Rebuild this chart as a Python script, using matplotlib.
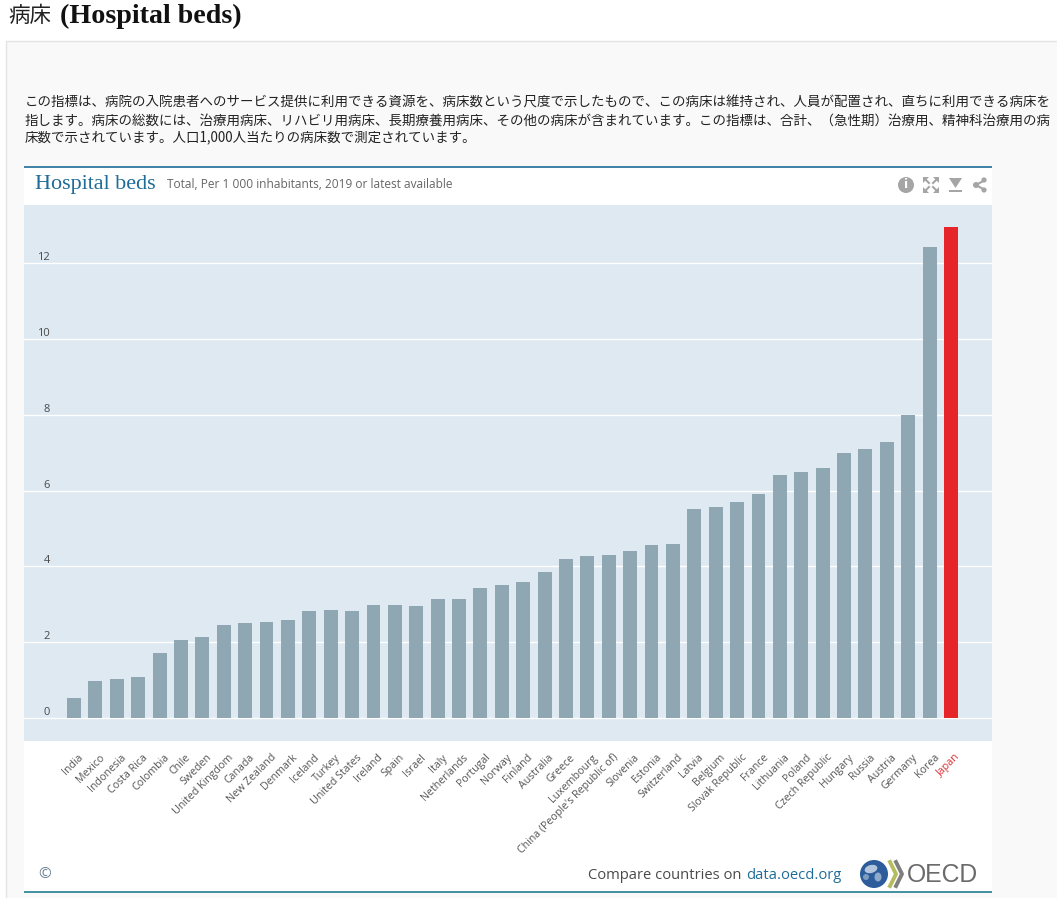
import matplotlib
matplotlib.use("Agg")
import matplotlib.pyplot as plt
from matplotlib.patches import Rectangle, Circle, Polygon, Ellipse
from matplotlib.transforms import ScaledTranslation

countries = ["India", "Mexico", "Indonesia", "Costa Rica", "Colombia", "Chile", "Sweden",
             "United Kingdom", "Canada", "New Zealand", "Denmark", "Iceland", "Turkey",
             "United States", "Ireland", "Spain", "Israel", "Italy", "Netherlands", "Portugal",
             "Norway", "Finland", "Australia", "Greece", "Luxembourg",
             "China (People's Republic of)", "Slovenia", "Estonia", "Switzerland", "Latvia",
             "Belgium", "Slovak Republic", "France", "Lithuania", "Poland", "Czech Republic",
             "Hungary", "Russia", "Austria", "Germany", "Korea", "Japan"]
beds = [0.53, 0.98, 1.04, 1.09, 1.71, 2.06, 2.14, 2.45, 2.5, 2.54, 2.59, 2.83, 2.85, 2.83,
        2.97, 2.97, 2.95, 3.14, 3.15, 3.42, 3.5, 3.6, 3.84, 4.2, 4.26, 4.3, 4.4, 4.57, 4.6,
        5.5, 5.57, 5.7, 5.9, 6.4, 6.5, 6.6, 7.0, 7.1, 7.27, 8.0, 12.43, 12.96]
y_ticks = [0, 2, 4, 6, 8, 10, 12]

body_lines = [
    "この指標は、病院の入院患者へのサービス提供に利用できる資源を、病床数という尺度で示したもので、この病床は維持され、人員が配置され、直ちに利用できる病床を",
    "指します。病床の総数には、治療用病床、リハビリ用病床、長期療養用病床、その他の病床が含まれています。この指標は、合計、（急性期）治療用、精神科治療用の病",
    "床数で示されています。人口1,000人当たりの病床数で測定されています。",
]

W, H = 1057, 898
fig = plt.figure(figsize=(W / 100, H / 100), dpi=100, facecolor="white")

# page chrome in pixel coordinates
bg = fig.add_axes([0, 0, 1, 1], zorder=0)
bg.set_xlim(0, W)
bg.set_ylim(H, 0)
bg.axis("off")
bg.add_patch(Rectangle((6, 40.5), W, H, fc="#F9F9F9", ec="#E3E3E3", lw=1))
bg.add_patch(Rectangle((24, 166), 968, 726, fc="white", ec="none"))
bg.plot([24, 992], [166.5, 166.5], color="#1F6C98", lw=1.2, solid_capstyle="butt")
bg.plot([24, 992], [891.5, 891.5], color="#1F7F8F", lw=1.2, solid_capstyle="butt")

bg.text(8, 16, "病床", family="Noto Sans CJK JP", fontsize=15.5, color="#222222", va="center")
bg.text(60, 16, "(Hospital beds)", family="Liberation Serif", fontweight="bold",
        fontsize=20.2, color="#111111", va="center")
for i, line in enumerate(body_lines):
    bg.text(25, 103 + i * 17.2, line, family=["Noto Sans CJK JP", "DejaVu Sans"],
            fontsize=9.7, color="#222222", va="center")

bg.text(35, 184, "Hospital beds", family="Liberation Serif", fontsize=15.9,
        color="#1F6C98", va="center")
bg.text(167, 184, "Total, Per 1 000 inhabitants, 2019 or latest available", family="Open Sans",
        fontsize=8.6, color="#666666", va="center")

# toolbar icons
ic = "#A5A5A5"
bg.add_patch(Circle((906, 185), 8, fc=ic, ec="none"))
bg.text(906, 185, "i", family="DejaVu Sans", fontweight="bold", fontsize=9, color="white",
        ha="center", va="center")
for sx, sy in [(-1, -1), (1, -1), (-1, 1), (1, 1)]:
    cx, cy = 931 + sx * 6, 185 + sy * 6
    bg.add_patch(Polygon([(cx + sx * 2, cy + sy * 2), (cx - sx * 4, cy + sy * 2),
                          (cx + sx * 2, cy - sy * 4)], fc=ic, ec="none"))
    bg.plot([cx, cx - sx * 4], [cy, cy - sy * 4], color=ic, lw=1.5)
bg.add_patch(Polygon([(949, 178), (962, 178), (955.5, 188)], fc=ic, ec="none"))
bg.add_patch(Rectangle((949, 190), 13, 1.5, fc=ic, ec="none"))
bg.plot([985, 976, 985], [180, 185, 190], color=ic, lw=1.5)
for x, y, r in [(984, 180, 2.6), (976, 185, 3), (984, 190, 2.6)]:
    bg.add_patch(Circle((x, y), r, fc=ic, ec="none"))

# footer
bg.text(38, 875, "©", family="Open Sans", fontsize=11, color="#6F8494", va="center")
bg.text(588, 875.5, "Compare countries on", family="Open Sans", fontsize=10.6, color="#4A4A4A", va="center")
bg.text(746, 875.5, "data.oecd.org", family="Open Sans", fontsize=10.6, color="#1F6C98", va="center")
bg.add_patch(Circle((874, 874), 14, fc="#2C5C9C", ec="none"))
bg.add_patch(Ellipse((871, 869), 13, 8, angle=-15, fc="#B4C6DC", ec="none"))
bg.add_patch(Ellipse((878, 877), 7, 9, fc="#8FA9C9", ec="none"))
bg.add_patch(Ellipse((866, 877), 6, 6, fc="#7E9BC0", ec="none"))
for dx, col in [(0, "#B5BC5E"), (6, "#7F7F7F")]:
    bg.plot([890 + dx, 896 + dx, 890 + dx], [862, 874, 886], color=col, lw=2.8)
bg.text(907, 874.5, "OECD", family="Liberation Sans", fontsize=17.8, color="#6B6B6B", va="center")

# chart
left, right, top, bottom = 24, 992, 205, 741
ax = fig.add_axes([left / W, 1 - bottom / H, (right - left) / W, (bottom - top) / H], zorder=1)
ax.set_facecolor("#DEE9F1")
first_c, last_c = 74, 951
px_x = (last_c - first_c) / (len(countries) - 1)
y0, y12 = 718, 263
px_y = (y0 - y12) / 12
ax.set_xlim((left - first_c) / px_x, (right - first_c) / px_x)
ax.set_ylim((y0 - bottom) / px_y, (y0 - top) / px_y)
colors = ["#E6252B" if c == "Japan" else "#8FA6B3" for c in countries]
ax.bar(range(len(countries)), beds, width=0.65, color=colors, zorder=3)
ax.set_axisbelow(True)
ax.yaxis.grid(True, color="white", lw=1)
ax.xaxis.grid(False)
for s in ax.spines.values():
    s.set_visible(False)

ax.set_yticks(y_ticks)
ax.tick_params(axis="y", length=0, pad=-18.5, labelsize=8.0, labelcolor="#4A4A4A")
for lab in ax.get_yticklabels():
    lab.set_family("Open Sans")
    lab.set_va("bottom")
    lab.set_ha("right")

ax.set_xticks(range(len(countries)))
ax.set_xticklabels(countries, rotation=45, ha="right", va="top", rotation_mode="anchor",
                   family="Open Sans", fontsize=7.7, color="#555555")
ax.tick_params(axis="x", length=0, pad=8)
offset = ScaledTranslation(4 / 100, 0, fig.dpi_scale_trans)
for lab, c in zip(ax.get_xticklabels(), countries):
    lab.set_transform(lab.get_transform() + offset)
    if c == "Japan":
        lab.set_color("#D9343A")

fig.savefig("out.png", dpi=100)
